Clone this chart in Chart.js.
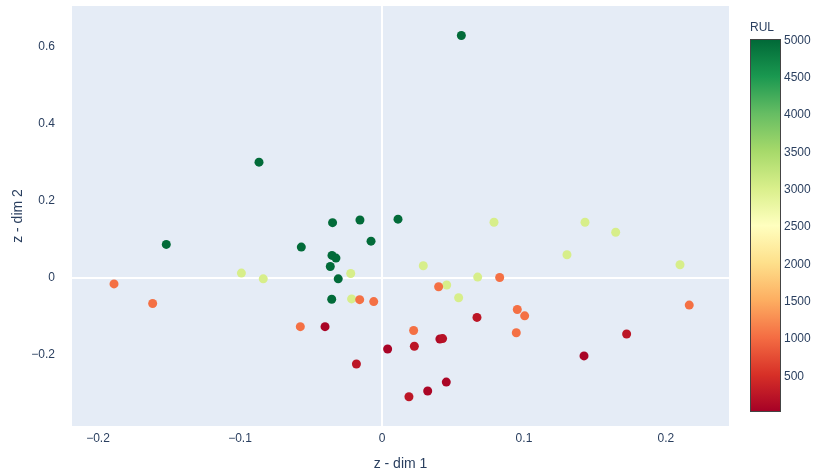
<!DOCTYPE html>
<html>
<head>
<meta charset="utf-8">
<script src="https://cdn.jsdelivr.net/npm/chart.js@4.4.0/dist/chart.umd.min.js"></script>
<style>
  body { margin: 0; background: #fff; }
  canvas { display: block; }
</style>
</head>
<body>
<canvas id="latent" width="814" height="475"></canvas>
<script>
// latent space points, coloured by RUL

const xs = [
  -0.0866, -0.0348, -0.0155, -0.0077, 0.0113, 0.0559, -0.1519, -0.0568, -0.0352, -0.0324, -0.0364, -0.0308, -0.0354,
  0.0789, 0.143, 0.1646, -0.099, -0.0836, -0.022, -0.0214, 0.1303, 0.2099, 0.0291, 0.0674, 0.0456, 0.054,
  -0.1887, -0.1615, -0.0157, -0.0058, -0.0575, 0.0829, 0.0399, 0.0953, 0.1005, 0.0946, 0.2164, 0.0223,
  -0.0401, 0.004, -0.018, 0.0669, 0.0408, 0.0427, 0.0228, 0.1723, 0.1423, 0.0453, 0.0322, 0.019
];
const ys = [
  0.301, 0.144, 0.151, 0.096, 0.153, 0.630, 0.0875, 0.0805, 0.059, 0.052, 0.030, -0.002, -0.055,
  0.145, 0.145, 0.119, 0.013, -0.002, 0.012, -0.054, 0.0605, 0.0346, 0.032, 0.0026, -0.018, -0.051,
  -0.015, -0.066, -0.056, -0.061, -0.126, 0.0017, -0.0225, -0.0814, -0.098, -0.142, -0.070, -0.136,
  -0.126, -0.184, -0.223, -0.102, -0.158, -0.157, -0.177, -0.145, -0.202, -0.270, -0.293, -0.308
];
const rul = [
  4990, 4990, 4990, 4990, 4990, 4990, 4990, 4990, 4990, 4990, 4990, 4990, 4990,
  3040, 3040, 3040, 3040, 3040, 3040, 3040, 3040, 3040, 3040, 3040, 3040, 3040,
  1040, 1040, 1040, 1040, 1040, 1040, 1040, 1040, 1040, 1040, 1040, 1040,
  60, 60, 250, 250, 120, 200, 250, 250, 60, 80, 80, 250
];

const xTicks = [-0.2, -0.1, 0, 0.1, 0.2];
const yTicks = [-0.2, 0, 0.2, 0.4, 0.6];
const rulTicks = [500, 1000, 1500, 2000, 2500, 3000, 3500, 4000, 4500, 5000];
const rulMin = 20, rulMax = 5020;

// plotly RdYlGn
const rdylgn = [
  [0, [165, 0, 38]], [0.1, [215, 48, 39]], [0.2, [244, 109, 67]], [0.3, [253, 174, 97]],
  [0.4, [254, 224, 139]], [0.5, [255, 255, 191]], [0.6, [217, 239, 139]], [0.7, [166, 217, 106]],
  [0.8, [102, 189, 99]], [0.9, [26, 152, 80]], [1, [0, 104, 55]]
];

function colorFor(v) {
  let t = (v - rulMin) / (rulMax - rulMin);
  t = Math.max(0, Math.min(1, t));
  for (let i = 1; i < rdylgn.length; i++) {
    if (t <= rdylgn[i][0]) {
      const a = rdylgn[i - 1], b = rdylgn[i];
      const f = (t - a[0]) / (b[0] - a[0]);
      const c = a[1].map((ch, k) => Math.round(ch + (b[1][k] - ch) * f));
      return 'rgb(' + c.join(',') + ')';
    }
  }
  return 'rgb(0,104,55)';
}

const fmt = v => (v < 0 ? '\u2212' + Math.abs(v) : String(v));
const fontFamily = '"Liberation Sans", Arial, sans-serif';
const tickFont = { family: fontFamily, size: 12 };
const textColor = '#2a3f5f';

const plotBg = {
  id: 'plotBg',
  beforeDraw(chart) {
    const { ctx, chartArea: a } = chart;
    ctx.save();
    ctx.fillStyle = '#e5ecf6';
    ctx.fillRect(a.left, a.top, a.right - a.left, a.bottom - a.top);
    ctx.restore();
  }
};

const colorBar = {
  id: 'colorBar',
  afterDraw(chart) {
    const ctx = chart.ctx;
    const left = 750, right = 781, top = 39, bottom = 412;
    ctx.save();
    const g = ctx.createLinearGradient(0, bottom, 0, top);
    rdylgn.forEach(s => g.addColorStop(s[0], 'rgb(' + s[1].join(',') + ')'));
    ctx.fillStyle = g;
    ctx.fillRect(left, top, right - left, bottom - top);
    ctx.strokeStyle = '#444';
    ctx.lineWidth = 1;
    ctx.strokeRect(left + 0.5, top + 0.5, right - left - 1, bottom - top - 1);
    ctx.fillStyle = textColor;
    ctx.font = '12px ' + fontFamily;
    ctx.textAlign = 'left';
    ctx.textBaseline = 'middle';
    rulTicks.forEach(v => {
      const y = bottom - (v - rulMin) / (rulMax - rulMin) * (bottom - top);
      ctx.fillText(String(v), right + 3, y);
    });
    ctx.fillText('RUL', left, 28);
    ctx.restore();
  }
};

const pts = xs.map((x, i) => ({ x: x, y: ys[i] }));

const latent = document.getElementById('latent').getContext('2d');
const latentChart = new Chart(latent, {
  type: 'scatter',
  data: {
    datasets: [{
      data: pts,
      backgroundColor: c => colorFor(rul[c.dataIndex]),
      borderWidth: 0,
      pointRadius: 4.5,
      pointHoverRadius: 4.5
    }]
  },
  options: {
    responsive: false,
    animation: false,
    layout: { padding: { left: 0, top: 6, right: 85, bottom: 0 } },
    plugins: { legend: { display: false }, tooltip: { enabled: false } },
    scales: {
      x: {
        type: 'linear',
        min: -0.2183,
        max: 0.2444,
        afterBuildTicks: s => { s.ticks = xTicks.map(v => ({ value: v })); },
        afterFit: s => { s.height = 49; s.paddingLeft = 0; s.paddingRight = 0; },
        border: { display: false },
        grid: {
          drawTicks: false,
          lineWidth: 2,
          color: c => (c.tick && c.tick.value === 0 ? '#ffffff' : 'rgba(0,0,0,0)')
        },
        ticks: { color: textColor, font: tickFont, padding: 5, maxRotation: 0, callback: v => fmt(v) },
        title: {
          display: true,
          text: 'z - dim 1',
          color: textColor,
          font: { family: fontFamily, size: 14 },
          padding: { top: 0, bottom: 2 }
        }
      },
      y: {
        type: 'linear',
        min: -0.384,
        max: 0.7065,
        afterBuildTicks: s => { s.ticks = yTicks.map(v => ({ value: v })); },
        afterFit: s => { s.width = 72; s.paddingTop = 0; s.paddingBottom = 0; },
        border: { display: false },
        grid: {
          drawTicks: false,
          lineWidth: 2,
          color: c => (c.tick && c.tick.value === 0 ? '#ffffff' : 'rgba(0,0,0,0)')
        },
        ticks: { color: textColor, font: tickFont, padding: 17, callback: v => fmt(v) },
        title: {
          display: true,
          text: 'z - dim 2',
          color: textColor,
          font: { family: fontFamily, size: 14 },
          padding: { top: 10, bottom: 0 }
        }
      }
    }
  },
  plugins: [plotBg, colorBar]
});
</script>
</body>
</html>
